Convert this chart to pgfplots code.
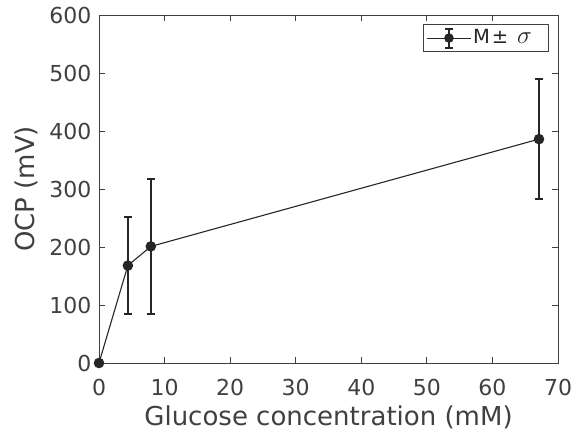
\documentclass[border=0pt]{standalone}
\usepackage{pgfplots}
\pgfplotsset{compat=1.18}
\usepackage{fontspec}
\setmainfont{DejaVu Sans}
\definecolor{axgray}{RGB}{64,64,64}
\definecolor{dat}{RGB}{38,38,38}
\pgfplotstableread{
x y e
0 0 0
4.4 168 84
7.9 201 117
67.1 386 103
}\datatab
\begin{document}
\fontsize{22}{26}\selectfont
\begin{tikzpicture}
\begin{axis}[
  name=ax,
  scale only axis, width=459pt, height=348pt,
  xmin=0, xmax=70, ymin=0, ymax=600,
  xtick={0,10,...,70}, ytick={0,100,...,600},
  tick align=inside, major tick length=6pt,
  axis line style={axgray, line width=0.8pt},
  tick style={axgray, line width=0.8pt},
  ticklabel style={font=\fontsize{22}{26}\selectfont, text=axgray},
  xticklabel style={yshift=-9pt},
  label style={font=\fontsize{26}{30}\selectfont, text=axgray},
  /pgf/number format/assume math mode=true,
  xlabel={Glucose concentration (mM)},
  ylabel={OCP (mV)},
  xlabel style={yshift=5pt},
  ylabel style={yshift=-3pt},
  legend style={at={(rel axis cs:0.980,0.974)}, anchor=north east, draw=axgray, line width=0.8pt, inner xsep=3pt, inner ysep=3pt, font=\fontsize{19.5}{23}\selectfont, text=dat, cells={anchor=west}, nodes={inner sep=1.5pt}},
  legend image code/.code={
    \draw[dat, line width=1.1pt] (0pt,0pt) -- (44pt,0pt);
    \draw[dat, line width=2.2pt] (22pt,-9.5pt) -- (22pt,9.5pt);
    \draw[dat, line width=2pt] (18pt,9.5pt) -- (26pt,9.5pt);
    \draw[dat, line width=2pt] (18pt,-9.5pt) -- (26pt,-9.5pt);
    \fill[dat] (22pt,0pt) circle (4.2pt);
  },
]
\addplot[dat, line width=1.1pt, mark=*, mark size=4.7pt, mark options={fill=dat, draw=dat},
  error bars/.cd, y dir=both, y explicit,
  error bar style={line width=2.2pt, dat},
  error mark options={rotate=90, mark size=4pt, line width=2pt, dat}]
  table[x=x, y=y, y error=e]{\datatab};
\addlegendentry{M\kern2pt±\kern9pt{\fontsize{28}{28}\selectfont$\sigma$}\kern12pt}
\end{axis}
\pgfresetboundingbox
\path ([shift={(-99pt,-75pt)}]ax.south west) rectangle ([shift={(27pt,15pt)}]ax.north east);
\end{tikzpicture}
\end{document}
